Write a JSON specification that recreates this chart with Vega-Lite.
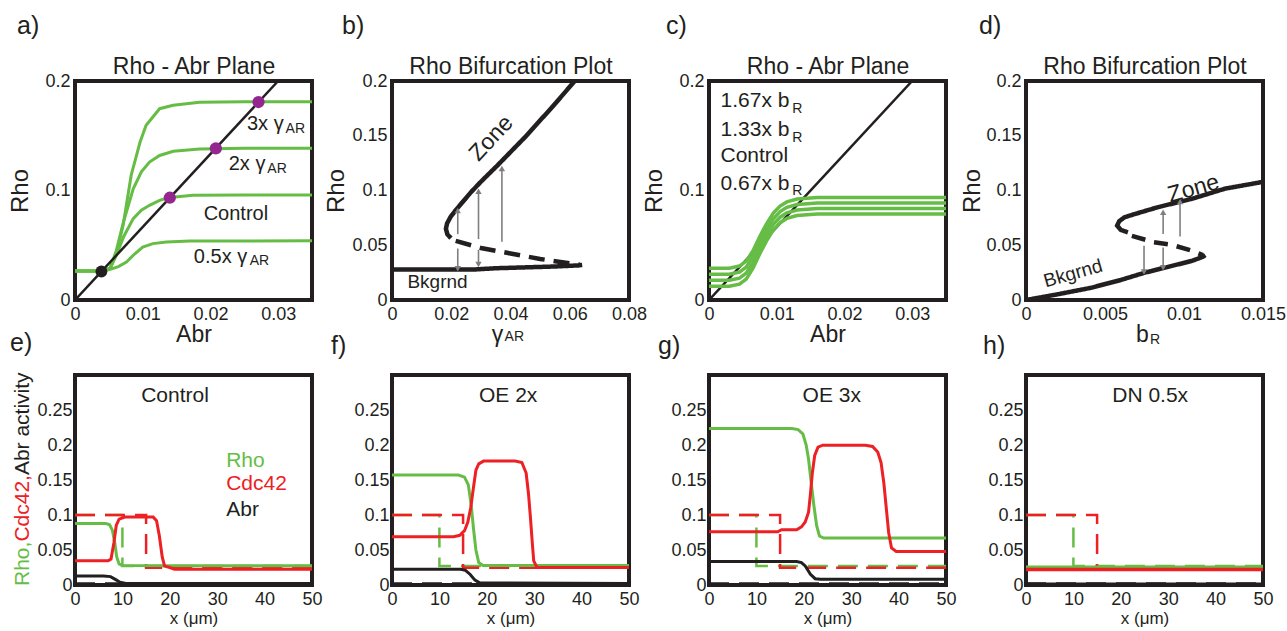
{
  "$schema": "https://vega.github.io/schema/vega-lite/v6.json",
  "padding": {"left": 6, "top": 12, "right": 5, "bottom": 5},
  "config": {
    "font": "Liberation Sans",
    "view": {"stroke": "#231f20", "strokeWidth": 4},
    "axis": {"domain": false, "ticks": false, "grid": false, "labelFontSize": 18, "labelColor": "#231f20", "titleFontSize": 23, "titleFontWeight": "normal", "titleColor": "#231f20", "labelPadding": 5, "titlePadding": 2, "format": ".3~r", "labelFlush": false, "labelOverlap": false, "labelFont": "Liberation Sans", "titleFont": "Liberation Sans"},
    "title": {"anchor": "start", "frame": "group", "fontSize": 25, "fontWeight": "normal", "color": "#231f20", "font": "Liberation Sans", "offset": 16},
    "text": {"font": "Liberation Sans", "color": "#231f20"}
  },
  "resolve": {"scale": {"color": "independent", "shape": "independent", "strokeDash": "independent"}},
  "datasets": {
    "a_green": [
      {"x":0,"y":0.0265,"c":"3x"},{"x":0.0042,"y":0.0265,"c":"3x"},{"x":0.0052,"y":0.029,"c":"3x"},{"x":0.0062,"y":0.045,"c":"3x"},{"x":0.0071,"y":0.068,"c":"3x"},{"x":0.0083,"y":0.114,"c":"3x"},{"x":0.0096,"y":0.144,"c":"3x"},{"x":0.0105,"y":0.1595,"c":"3x"},{"x":0.0125,"y":0.1747,"c":"3x"},{"x":0.0145,"y":0.1778,"c":"3x"},{"x":0.0184,"y":0.1805,"c":"3x"},{"x":0.025,"y":0.181,"c":"3x"},{"x":0.035,"y":0.181,"c":"3x"},
      {"x":0,"y":0.0265,"c":"2x"},{"x":0.0042,"y":0.0265,"c":"2x"},{"x":0.0052,"y":0.029,"c":"2x"},{"x":0.0061,"y":0.045,"c":"2x"},{"x":0.0071,"y":0.07,"c":"2x"},{"x":0.0086,"y":0.1016,"c":"2x"},{"x":0.0098,"y":0.117,"c":"2x"},{"x":0.011,"y":0.126,"c":"2x"},{"x":0.0125,"y":0.132,"c":"2x"},{"x":0.0145,"y":0.1358,"c":"2x"},{"x":0.0184,"y":0.138,"c":"2x"},{"x":0.025,"y":0.1385,"c":"2x"},{"x":0.035,"y":0.1385,"c":"2x"},
      {"x":0,"y":0.0265,"c":"1x"},{"x":0.0042,"y":0.0265,"c":"1x"},{"x":0.0052,"y":0.029,"c":"1x"},{"x":0.0061,"y":0.0408,"c":"1x"},{"x":0.0072,"y":0.058,"c":"1x"},{"x":0.0086,"y":0.0743,"c":"1x"},{"x":0.0098,"y":0.082,"c":"1x"},{"x":0.011,"y":0.0865,"c":"1x"},{"x":0.0125,"y":0.091,"c":"1x"},{"x":0.0137,"y":0.0934,"c":"1x"},{"x":0.0174,"y":0.0956,"c":"1x"},{"x":0.025,"y":0.0958,"c":"1x"},{"x":0.035,"y":0.0958,"c":"1x"},
      {"x":0,"y":0.0265,"c":"0.5x"},{"x":0.0042,"y":0.0265,"c":"0.5x"},{"x":0.0052,"y":0.028,"c":"0.5x"},{"x":0.0064,"y":0.0305,"c":"0.5x"},{"x":0.0076,"y":0.0347,"c":"0.5x"},{"x":0.0088,"y":0.042,"c":"0.5x"},{"x":0.01,"y":0.0484,"c":"0.5x"},{"x":0.0115,"y":0.0515,"c":"0.5x"},{"x":0.0135,"y":0.053,"c":"0.5x"},{"x":0.017,"y":0.0538,"c":"0.5x"},{"x":0.035,"y":0.054,"c":"0.5x"}
    ],
    "diag": [{"x":0,"y":0},{"x":0.03,"y":0.2}],
    "a_pts": [{"x":0.0039,"y":0.026,"k":"bg"},{"x":0.014,"y":0.0934,"k":"st"},{"x":0.0208,"y":0.1385,"k":"st"},{"x":0.0271,"y":0.1808,"k":"st"}],
    "a_txt": [{"x":0.0254,"y":0.155,"t":"3x γ"},{"x":0.0227,"y":0.1184,"t":"2x γ"},{"x":0.019,"y":0.0728,"t":"Control"},{"x":0.01755,"y":0.0341,"t":"0.5x γ"}],
    "a_sub": [{"x":0.0311,"y":0.1525,"t":"AR"},{"x":0.0284,"y":0.116,"t":"AR"},{"x":0.0258,"y":0.0318,"t":"AR"}],
    "b_br": [
      {"x":0.0199,"y":0.0565,"br":"zone"},{"x":0.0187,"y":0.06,"br":"zone"},{"x":0.0182,"y":0.065,"br":"zone"},{"x":0.0186,"y":0.07,"br":"zone"},{"x":0.0198,"y":0.076,"br":"zone"},{"x":0.0215,"y":0.082,"br":"zone"},{"x":0.024,"y":0.09,"br":"zone"},{"x":0.0267,"y":0.0986,"br":"zone"},{"x":0.03,"y":0.108,"br":"zone"},{"x":0.0357,"y":0.1232,"br":"zone"},{"x":0.045,"y":0.149,"br":"zone"},{"x":0.054,"y":0.176,"br":"zone"},{"x":0.0617,"y":0.2,"br":"zone"},{"x":0.064,"y":0.208,"br":"zone"},
      {"x":0,"y":0.0279,"br":"bkgrnd"},{"x":0.028,"y":0.0279,"br":"bkgrnd"},{"x":0.035,"y":0.029,"br":"bkgrnd"},{"x":0.045,"y":0.0298,"br":"bkgrnd"},{"x":0.055,"y":0.0306,"br":"bkgrnd"},{"x":0.063,"y":0.0316,"br":"bkgrnd"},{"x":0.0642,"y":0.032,"br":"bkgrnd"},
      {"x":0.0215,"y":0.054,"br":"unstable"},{"x":0.03,"y":0.0475,"br":"unstable"},{"x":0.04,"y":0.0425,"br":"unstable"},{"x":0.05,"y":0.0375,"br":"unstable"},{"x":0.058,"y":0.0342,"br":"unstable"},{"x":0.0635,"y":0.0322,"br":"unstable"}
    ],
    "b_arr": [{"x":0.0222,"y":0.0602,"y2":0.0817,"d":"up"},{"x":0.0292,"y":0.0556,"y2":0.0993,"d":"up"},{"x":0.0371,"y":0.0532,"y2":0.1201,"d":"up"},{"x":0.0222,"y":0.047,"y2":0.0286,"d":"down"},{"x":0.0292,"y":0.0458,"y2":0.0325,"d":"down"}],
    "c_green": [
      {"x":0,"y":0.029,"c":"1.67"},{"x":0.003,"y":0.029,"c":"1.67"},{"x":0.0045,"y":0.031,"c":"1.67"},{"x":0.0055,"y":0.0355,"c":"1.67"},{"x":0.0065,"y":0.045,"c":"1.67"},{"x":0.0075,"y":0.058,"c":"1.67"},{"x":0.0085,"y":0.0696,"c":"1.67"},{"x":0.0095,"y":0.0793,"c":"1.67"},{"x":0.0105,"y":0.0858,"c":"1.67"},{"x":0.0115,"y":0.0896,"c":"1.67"},{"x":0.013,"y":0.0922,"c":"1.67"},{"x":0.016,"y":0.0935,"c":"1.67"},{"x":0.035,"y":0.0935,"c":"1.67"},
      {"x":0,"y":0.0235,"c":"1.33"},{"x":0.003,"y":0.0235,"c":"1.33"},{"x":0.0045,"y":0.0255,"c":"1.33"},{"x":0.0055,"y":0.03,"c":"1.33"},{"x":0.0065,"y":0.0398,"c":"1.33"},{"x":0.0075,"y":0.0528,"c":"1.33"},{"x":0.0085,"y":0.0645,"c":"1.33"},{"x":0.0095,"y":0.0742,"c":"1.33"},{"x":0.0105,"y":0.0807,"c":"1.33"},{"x":0.0115,"y":0.0846,"c":"1.33"},{"x":0.013,"y":0.0872,"c":"1.33"},{"x":0.016,"y":0.0885,"c":"1.33"},{"x":0.035,"y":0.0885,"c":"1.33"},
      {"x":0,"y":0.018,"c":"1"},{"x":0.003,"y":0.018,"c":"1"},{"x":0.0045,"y":0.02,"c":"1"},{"x":0.0055,"y":0.0246,"c":"1"},{"x":0.0065,"y":0.0344,"c":"1"},{"x":0.0075,"y":0.0475,"c":"1"},{"x":0.0085,"y":0.0593,"c":"1"},{"x":0.0095,"y":0.0691,"c":"1"},{"x":0.0105,"y":0.0756,"c":"1"},{"x":0.0115,"y":0.0796,"c":"1"},{"x":0.013,"y":0.0822,"c":"1"},{"x":0.016,"y":0.0835,"c":"1"},{"x":0.035,"y":0.0835,"c":"1"},
      {"x":0,"y":0.0125,"c":"0.67"},{"x":0.003,"y":0.0125,"c":"0.67"},{"x":0.0045,"y":0.0145,"c":"0.67"},{"x":0.0055,"y":0.0191,"c":"0.67"},{"x":0.0065,"y":0.029,"c":"0.67"},{"x":0.0075,"y":0.0422,"c":"0.67"},{"x":0.0085,"y":0.054,"c":"0.67"},{"x":0.0095,"y":0.064,"c":"0.67"},{"x":0.0105,"y":0.0706,"c":"0.67"},{"x":0.0115,"y":0.0745,"c":"0.67"},{"x":0.013,"y":0.0772,"c":"0.67"},{"x":0.016,"y":0.0785,"c":"0.67"},{"x":0.035,"y":0.0785,"c":"0.67"}
    ],
    "c_txt": [{"x":0.0017,"y":0.1763,"t":"1.67x b"},{"x":0.0017,"y":0.1495,"t":"1.33x b"},{"x":0.0017,"y":0.126,"t":"Control"},{"x":0.0017,"y":0.1007,"t":"0.67x b"}],
    "c_sub": [{"x":0.0123,"y":0.171,"t":"R"},{"x":0.0123,"y":0.1443,"t":"R"},{"x":0.0123,"y":0.0956,"t":"R"}],
    "d_br": [
      {"x":0.00645,"y":0.0618,"br":"zone"},{"x":0.006,"y":0.064,"br":"zone"},{"x":0.00577,"y":0.068,"br":"zone"},{"x":0.0059,"y":0.072,"br":"zone"},{"x":0.00624,"y":0.0756,"br":"zone"},{"x":0.007,"y":0.079,"br":"zone"},{"x":0.00836,"y":0.0848,"br":"zone"},{"x":0.0105,"y":0.0924,"br":"zone"},{"x":0.0126,"y":0.1017,"br":"zone"},{"x":0.01496,"y":0.1078,"br":"zone"},{"x":0.0152,"y":0.1082,"br":"zone"},
      {"x":0,"y":0,"br":"bkgrnd"},{"x":0.002,"y":0.0052,"br":"bkgrnd"},{"x":0.0041,"y":0.0111,"br":"bkgrnd"},{"x":0.006,"y":0.0183,"br":"bkgrnd"},{"x":0.0075,"y":0.0249,"br":"bkgrnd"},{"x":0.009,"y":0.0303,"br":"bkgrnd"},{"x":0.0105,"y":0.0357,"br":"bkgrnd"},{"x":0.0112,"y":0.0395,"br":"bkgrnd"},{"x":0.01135,"y":0.041,"br":"bkgrnd"},
      {"x":0.0067,"y":0.0585,"br":"unstable"},{"x":0.0081,"y":0.0528,"br":"unstable"},{"x":0.0092,"y":0.0505,"br":"unstable"},{"x":0.0104,"y":0.0455,"br":"unstable"},{"x":0.0112,"y":0.041,"br":"unstable"}
    ],
    "d_arr": [{"x":0.00868,"y":0.0602,"y2":0.0802,"d":"up"},{"x":0.00975,"y":0.058,"y2":0.09,"d":"up"},{"x":0.00747,"y":0.0495,"y2":0.0255,"d":"down"},{"x":0.00868,"y":0.0479,"y2":0.0295,"d":"down"}],
    "init": [
      {"x":0,"y":0.1,"s":"Rho"},{"x":10,"y":0.1,"s":"Rho"},{"x":10,"y":0.027,"s":"Rho"},{"x":50,"y":0.027,"s":"Rho"},
      {"x":0,"y":0.1,"s":"Cdc42"},{"x":15,"y":0.1,"s":"Cdc42"},{"x":15,"y":0.0245,"s":"Cdc42"},{"x":50,"y":0.0245,"s":"Cdc42"},
      {"x":0,"y":0.002,"s":"Abr"},{"x":50,"y":0.002,"s":"Abr"}
    ],
    "e_fin": [
      {"x":0,"y":0.088,"s":"Rho"},{"x":6.5,"y":0.088,"s":"Rho"},{"x":7.3,"y":0.086,"s":"Rho"},{"x":7.9,"y":0.078,"s":"Rho"},{"x":8.4,"y":0.06,"s":"Rho"},{"x":8.8,"y":0.04,"s":"Rho"},{"x":9.3,"y":0.03,"s":"Rho"},{"x":10,"y":0.028,"s":"Rho"},{"x":50,"y":0.0275,"s":"Rho"},
      {"x":0,"y":0.0345,"s":"Cdc42"},{"x":7,"y":0.0345,"s":"Cdc42"},{"x":7.6,"y":0.037,"s":"Cdc42"},{"x":8.2,"y":0.06,"s":"Cdc42"},{"x":8.7,"y":0.085,"s":"Cdc42"},{"x":9.3,"y":0.094,"s":"Cdc42"},{"x":10.5,"y":0.097,"s":"Cdc42"},{"x":16.5,"y":0.097,"s":"Cdc42"},{"x":17.2,"y":0.092,"s":"Cdc42"},{"x":17.8,"y":0.07,"s":"Cdc42"},{"x":18.4,"y":0.04,"s":"Cdc42"},{"x":18.9,"y":0.027,"s":"Cdc42"},{"x":20,"y":0.025,"s":"Cdc42"},{"x":21,"y":0.0225,"s":"Cdc42"},{"x":50,"y":0.0225,"s":"Cdc42"},
      {"x":0,"y":0.013,"s":"Abr"},{"x":6,"y":0.013,"s":"Abr"},{"x":7.5,"y":0.012,"s":"Abr"},{"x":8.5,"y":0.008,"s":"Abr"},{"x":9.5,"y":0.004,"s":"Abr"},{"x":11,"y":0.002,"s":"Abr"},{"x":50,"y":0.002,"s":"Abr"}
    ],
    "f_fin": [
      {"x":0,"y":0.157,"s":"Rho"},{"x":14,"y":0.157,"s":"Rho"},{"x":15.3,"y":0.154,"s":"Rho"},{"x":16.1,"y":0.143,"s":"Rho"},{"x":16.7,"y":0.115,"s":"Rho"},{"x":17.2,"y":0.08,"s":"Rho"},{"x":17.7,"y":0.05,"s":"Rho"},{"x":18.3,"y":0.032,"s":"Rho"},{"x":19.2,"y":0.028,"s":"Rho"},{"x":50,"y":0.028,"s":"Rho"},
      {"x":0,"y":0.069,"s":"Cdc42"},{"x":13,"y":0.069,"s":"Cdc42"},{"x":14.3,"y":0.071,"s":"Cdc42"},{"x":15.3,"y":0.0776,"s":"Cdc42"},{"x":16,"y":0.09,"s":"Cdc42"},{"x":16.6,"y":0.11,"s":"Cdc42"},{"x":17.2,"y":0.14,"s":"Cdc42"},{"x":17.7,"y":0.164,"s":"Cdc42"},{"x":18.3,"y":0.173,"s":"Cdc42"},{"x":19.3,"y":0.177,"s":"Cdc42"},{"x":26,"y":0.177,"s":"Cdc42"},{"x":27.4,"y":0.175,"s":"Cdc42"},{"x":28.3,"y":0.16,"s":"Cdc42"},{"x":28.8,"y":0.13,"s":"Cdc42"},{"x":29.2,"y":0.097,"s":"Cdc42"},{"x":29.6,"y":0.06,"s":"Cdc42"},{"x":29.9,"y":0.0345,"s":"Cdc42"},{"x":30.6,"y":0.025,"s":"Cdc42"},{"x":50,"y":0.025,"s":"Cdc42"},
      {"x":0,"y":0.0225,"s":"Abr"},{"x":14.5,"y":0.0225,"s":"Abr"},{"x":15.5,"y":0.021,"s":"Abr"},{"x":16.5,"y":0.015,"s":"Abr"},{"x":17.5,"y":0.007,"s":"Abr"},{"x":18.5,"y":0.003,"s":"Abr"},{"x":50,"y":0.002,"s":"Abr"}
    ],
    "g_fin": [
      {"x":0,"y":0.2237,"s":"Rho"},{"x":17.5,"y":0.2237,"s":"Rho"},{"x":18.8,"y":0.222,"s":"Rho"},{"x":19.8,"y":0.216,"s":"Rho"},{"x":20.5,"y":0.2,"s":"Rho"},{"x":21,"y":0.18,"s":"Rho"},{"x":21.5,"y":0.15,"s":"Rho"},{"x":22.1,"y":0.115,"s":"Rho"},{"x":22.7,"y":0.085,"s":"Rho"},{"x":23.3,"y":0.07,"s":"Rho"},{"x":24.2,"y":0.067,"s":"Rho"},{"x":50,"y":0.067,"s":"Rho"},
      {"x":0,"y":0.076,"s":"Cdc42"},{"x":14.5,"y":0.076,"s":"Cdc42"},{"x":15.3,"y":0.079,"s":"Cdc42"},{"x":18.5,"y":0.079,"s":"Cdc42"},{"x":19.5,"y":0.083,"s":"Cdc42"},{"x":20.3,"y":0.09,"s":"Cdc42"},{"x":21,"y":0.104,"s":"Cdc42"},{"x":21.4,"y":0.13,"s":"Cdc42"},{"x":21.8,"y":0.16,"s":"Cdc42"},{"x":22.3,"y":0.185,"s":"Cdc42"},{"x":23,"y":0.197,"s":"Cdc42"},{"x":24,"y":0.1997,"s":"Cdc42"},{"x":33,"y":0.1997,"s":"Cdc42"},{"x":34.5,"y":0.198,"s":"Cdc42"},{"x":35.6,"y":0.19,"s":"Cdc42"},{"x":36.3,"y":0.175,"s":"Cdc42"},{"x":36.9,"y":0.145,"s":"Cdc42"},{"x":37.4,"y":0.11,"s":"Cdc42"},{"x":37.9,"y":0.075,"s":"Cdc42"},{"x":38.5,"y":0.053,"s":"Cdc42"},{"x":39.5,"y":0.048,"s":"Cdc42"},{"x":50,"y":0.048,"s":"Cdc42"},
      {"x":0,"y":0.0335,"s":"Abr"},{"x":18.5,"y":0.0335,"s":"Abr"},{"x":19.5,"y":0.032,"s":"Abr"},{"x":20.3,"y":0.0273,"s":"Abr"},{"x":21.4,"y":0.0154,"s":"Abr"},{"x":22.4,"y":0.009,"s":"Abr"},{"x":23.5,"y":0.0082,"s":"Abr"},{"x":50,"y":0.0082,"s":"Abr"}
    ],
    "h_fin": [
      {"x":0,"y":0.0255,"s":"Rho"},{"x":50,"y":0.0255,"s":"Rho"},
      {"x":0,"y":0.022,"s":"Cdc42"},{"x":50,"y":0.022,"s":"Cdc42"},
      {"x":0,"y":0.001,"s":"Abr"},{"x":50,"y":0.001,"s":"Abr"}
    ],
    "e_leg": [{"x":31.9,"y":0.1685,"t":"Rho","s":"Rho"},{"x":31.9,"y":0.136,"t":"Cdc42","s":"Cdc42"},{"x":31.9,"y":0.099,"t":"Abr","s":"Abr"}],
    "e_ytitle": [{"x":-11,"y":-0.0014,"t":"Rho,","s":"Rho"},{"x":-11,"y":0.062,"t":"Cdc42,","s":"Cdc42"},{"x":-11,"y":0.157,"t":"Abr activity","s":"Abr"}]
  },
  "concat": [
    {
      "width": 237, "height": 219,
      "title": {"text": "a)", "dx": -58},
      "resolve": {"axis": {"x": "independent"}},
      "layer": [
        {
          "encoding": {
            "x": {"field": "x", "type": "quantitative", "scale": {"domain": [0, 0.035]}, "axis": {"values": [0, 0.01, 0.02, 0.03], "title": "Abr", "titlePadding": 0}},
            "y": {"field": "y", "type": "quantitative", "scale": {"domain": [0, 0.2]}, "axis": {"values": [0, 0.1, 0.2], "title": "Rho", "titleFontSize": 24, "titlePadding": 12}}
          },
          "layer": [
            {"data": {"name": "a_green"}, "mark": {"type": "line", "color": "#66bd45", "strokeWidth": 3, "clip": true}, "encoding": {"detail": {"field": "c"}}},
            {"data": {"name": "diag"}, "mark": {"type": "line", "color": "#231f20", "strokeWidth": 2.5, "clip": true}, "encoding": {}},
            {"data": {"name": "a_pts"}, "transform": [{"filter": "datum.k == 'st'"}], "mark": {"type": "point", "filled": true, "size": 150, "opacity": 1, "color": "#93278f"}, "encoding": {}},
            {"data": {"name": "a_pts"}, "transform": [{"filter": "datum.k == 'bg'"}], "mark": {"type": "point", "filled": true, "size": 140, "opacity": 1, "color": "#231f20"}, "encoding": {}},
            {"data": {"name": "a_txt"}, "mark": {"type": "text", "align": "left", "baseline": "alphabetic", "fontSize": 20}, "encoding": {"text": {"field": "t"}}},
            {"data": {"name": "a_sub"}, "mark": {"type": "text", "align": "left", "baseline": "alphabetic", "fontSize": 14}, "encoding": {"text": {"field": "t"}}}
          ]
        },
        {
          "data": {"values": [{"x": 0, "y": 0}]},
          "mark": {"type": "point", "opacity": 0},
          "encoding": {
            "x": {"field": "x", "type": "quantitative", "scale": {"domain": [0, 0.035]}, "axis": {"orient": "top", "title": "Rho - Abr Plane", "labels": false, "ticks": false, "domain": false, "titlePadding": 3, "titleFontSize": 23}},
            "y": {"field": "y", "type": "quantitative", "scale": {"domain": [0, 0.2]}}
          }
        }
      ]
    },
    {
      "width": 237, "height": 219,
      "title": {"text": "b)", "dx": -50},
      "resolve": {"axis": {"x": "independent"}},
      "layer": [
        {
          "encoding": {
            "x": {"field": "x", "type": "quantitative", "scale": {"domain": [0, 0.08]}, "axis": {"values": [0, 0.02, 0.04, 0.06, 0.08], "title": "γ", "titleX": 105, "titlePadding": 0}},
            "y": {"field": "y", "type": "quantitative", "scale": {"domain": [0, 0.2]}, "axis": {"values": [0, 0.05, 0.1, 0.15, 0.2], "title": "Rho", "titleFontSize": 24, "titlePadding": 3}}
          },
          "layer": [
            {"data": {"name": "b_br"}, "mark": {"type": "line", "color": "#231f20", "strokeWidth": 4.5, "clip": true}, "encoding": {"detail": {"field": "br"}, "order": {"value": null}, "strokeDash": {"field": "br", "type": "nominal", "scale": {"domain": ["zone", "bkgrnd", "unstable"], "range": [[1, 0], [1, 0], [16, 9]]}, "legend": null}}},
            {"data": {"name": "b_arr"}, "mark": {"type": "rule", "color": "#7f7f7f", "strokeWidth": 1.6}, "encoding": {"y2": {"field": "y2"}}},
            {"data": {"name": "b_arr"}, "mark": {"type": "point", "filled": true, "color": "#7f7f7f", "size": 40, "opacity": 1}, "encoding": {"y": {"field": "y2", "type": "quantitative"}, "shape": {"field": "d", "type": "nominal", "scale": {"domain": ["up", "down"], "range": ["triangle-up", "triangle-down"]}, "legend": null}}},
            {"data": {"values": [{"x": 0.0335, "y": 0.1477, "t": "Zone"}]}, "mark": {"type": "text", "fontSize": 23, "angle": 313, "baseline": "middle"}, "encoding": {"text": {"field": "t"}}},
            {"data": {"values": [{"x": 0.0052, "y": 0.0111, "t": "Bkgrnd"}]}, "mark": {"type": "text", "fontSize": 19, "align": "left", "baseline": "alphabetic"}, "encoding": {"text": {"field": "t"}}},
            {"data": {"values": [{"x": 0.038, "y": -0.037, "t": "AR"}]}, "mark": {"type": "text", "fontSize": 14, "align": "left", "baseline": "alphabetic"}, "encoding": {"text": {"field": "t"}}}
          ]
        },
        {
          "data": {"values": [{"x": 0, "y": 0}]},
          "mark": {"type": "point", "opacity": 0},
          "encoding": {
            "x": {"field": "x", "type": "quantitative", "scale": {"domain": [0, 0.08]}, "axis": {"orient": "top", "title": "Rho Bifurcation Plot", "labels": false, "ticks": false, "domain": false, "titlePadding": 3, "titleFontSize": 23}},
            "y": {"field": "y", "type": "quantitative", "scale": {"domain": [0, 0.2]}}
          }
        }
      ]
    },
    {
      "width": 237, "height": 219,
      "title": {"text": "c)", "dx": -43},
      "resolve": {"axis": {"x": "independent"}},
      "layer": [
        {
          "encoding": {
            "x": {"field": "x", "type": "quantitative", "scale": {"domain": [0, 0.035]}, "axis": {"values": [0, 0.01, 0.02, 0.03], "title": "Abr", "titlePadding": 0}},
            "y": {"field": "y", "type": "quantitative", "scale": {"domain": [0, 0.2]}, "axis": {"values": [0, 0.1, 0.2], "title": "Rho", "titleFontSize": 24, "titlePadding": 12}}
          },
          "layer": [
            {"data": {"name": "diag"}, "mark": {"type": "line", "color": "#231f20", "strokeWidth": 2.5, "clip": true}, "encoding": {}},
            {"data": {"name": "c_green"}, "mark": {"type": "line", "color": "#66bd45", "strokeWidth": 3.5, "clip": true}, "encoding": {"detail": {"field": "c"}}},
            {"data": {"name": "c_txt"}, "mark": {"type": "text", "align": "left", "baseline": "alphabetic", "fontSize": 21}, "encoding": {"text": {"field": "t"}}},
            {"data": {"name": "c_sub"}, "mark": {"type": "text", "align": "left", "baseline": "alphabetic", "fontSize": 14}, "encoding": {"text": {"field": "t"}}}
          ]
        },
        {
          "data": {"values": [{"x": 0, "y": 0}]},
          "mark": {"type": "point", "opacity": 0},
          "encoding": {
            "x": {"field": "x", "type": "quantitative", "scale": {"domain": [0, 0.035]}, "axis": {"orient": "top", "title": "Rho - Abr Plane", "labels": false, "ticks": false, "domain": false, "titlePadding": 3, "titleFontSize": 23}},
            "y": {"field": "y", "type": "quantitative", "scale": {"domain": [0, 0.2]}}
          }
        }
      ]
    },
    {
      "width": 237, "height": 219,
      "title": {"text": "d)", "dx": -47},
      "resolve": {"axis": {"x": "independent"}},
      "layer": [
        {
          "encoding": {
            "x": {"field": "x", "type": "quantitative", "scale": {"domain": [0, 0.015]}, "axis": {"values": [0, 0.005, 0.01, 0.015], "title": "b", "titleX": 116, "titlePadding": 0}},
            "y": {"field": "y", "type": "quantitative", "scale": {"domain": [0, 0.2]}, "axis": {"values": [0, 0.05, 0.1, 0.15, 0.2], "title": "Rho", "titleFontSize": 24, "titlePadding": 1}}
          },
          "layer": [
            {"data": {"name": "d_br"}, "mark": {"type": "line", "color": "#231f20", "strokeWidth": 4.5, "clip": true}, "encoding": {"detail": {"field": "br"}, "order": {"value": null}, "strokeDash": {"field": "br", "type": "nominal", "scale": {"domain": ["zone", "bkgrnd", "unstable"], "range": [[1, 0], [1, 0], [14, 9]]}, "legend": null}}},
            {"data": {"name": "d_arr"}, "mark": {"type": "rule", "color": "#7f7f7f", "strokeWidth": 1.6}, "encoding": {"y2": {"field": "y2"}}},
            {"data": {"name": "d_arr"}, "mark": {"type": "point", "filled": true, "color": "#7f7f7f", "size": 40, "opacity": 1}, "encoding": {"y": {"field": "y2", "type": "quantitative"}, "shape": {"field": "d", "type": "nominal", "scale": {"domain": ["up", "down"], "range": ["triangle-up", "triangle-down"]}, "legend": null}}},
            {"data": {"values": [{"x": 0.0106, "y": 0.1017, "t": "Zone"}]}, "mark": {"type": "text", "fontSize": 23, "angle": 344, "baseline": "middle"}, "encoding": {"text": {"field": "t"}}},
            {"data": {"values": [{"x": 0.00298, "y": 0.0242, "t": "Bkgrnd"}]}, "mark": {"type": "text", "fontSize": 19, "angle": 344, "baseline": "middle"}, "encoding": {"text": {"field": "t"}}},
            {"data": {"values": [{"x": 0.00785, "y": -0.0405, "t": "R"}]}, "mark": {"type": "text", "fontSize": 14, "align": "left", "baseline": "alphabetic"}, "encoding": {"text": {"field": "t"}}}
          ]
        },
        {
          "data": {"values": [{"x": 0, "y": 0}]},
          "mark": {"type": "point", "opacity": 0},
          "encoding": {
            "x": {"field": "x", "type": "quantitative", "scale": {"domain": [0, 0.015]}, "axis": {"orient": "top", "title": "Rho Bifurcation Plot", "labels": false, "ticks": false, "domain": false, "titlePadding": 3, "titleFontSize": 23}},
            "y": {"field": "y", "type": "quantitative", "scale": {"domain": [0, 0.2]}}
          }
        }
      ]
    },
    {
      "width": 237, "height": 210,
      "title": {"text": "e)", "dx": -65},
      "encoding": {
        "x": {"field": "x", "type": "quantitative", "scale": {"domain": [0, 50]}, "axis": {"values": [0, 10, 20, 30, 40, 50], "title": "x (μm)", "titleFontSize": 17}},
        "y": {"field": "y", "type": "quantitative", "scale": {"domain": [0, 0.3]}, "axis": {"values": [0, 0.05, 0.1, 0.15, 0.2, 0.25], "title": null, "labelPadding": 3}}
      },
      "layer": [
        {"data": {"name": "init"}, "mark": {"type": "line", "strokeWidth": 2.5, "strokeDash": [20, 10], "clip": true}, "encoding": {"order": {"value": null}, "color": {"field": "s", "type": "nominal", "scale": {"domain": ["Rho", "Cdc42", "Abr"], "range": ["#66bd45", "#ed2024", "#231f20"]}, "legend": null}}},
        {"data": {"name": "e_fin"}, "mark": {"type": "line", "strokeWidth": 3, "clip": true}, "encoding": {"color": {"field": "s", "type": "nominal", "scale": {"domain": ["Rho", "Cdc42", "Abr"], "range": ["#66bd45", "#ed2024", "#231f20"]}, "legend": null}}},
        {"data": {"values": [{"x": 21.1, "y": 0.262, "t": "Control"}]}, "mark": {"type": "text", "fontSize": 21, "baseline": "alphabetic"}, "encoding": {"text": {"field": "t"}}},
        {"data": {"name": "e_leg"}, "mark": {"type": "text", "fontSize": 21, "align": "left", "baseline": "alphabetic"}, "encoding": {"text": {"field": "t"}, "color": {"field": "s", "type": "nominal", "scale": {"domain": ["Rho", "Cdc42", "Abr"], "range": ["#66bd45", "#ed2024", "#231f20"]}, "legend": null}}},
        {"data": {"name": "e_ytitle"}, "mark": {"type": "text", "fontSize": 21, "align": "left", "baseline": "middle", "angle": 270}, "encoding": {"text": {"field": "t"}, "color": {"field": "s", "type": "nominal", "scale": {"domain": ["Rho", "Cdc42", "Abr"], "range": ["#66bd45", "#ed2024", "#231f20"]}, "legend": null}}}
      ]
    },
    {
      "width": 237, "height": 210,
      "title": {"text": "f)", "dx": -61},
      "encoding": {
        "x": {"field": "x", "type": "quantitative", "scale": {"domain": [0, 50]}, "axis": {"values": [0, 10, 20, 30, 40, 50], "title": "x (μm)", "titleFontSize": 17}},
        "y": {"field": "y", "type": "quantitative", "scale": {"domain": [0, 0.3]}, "axis": {"values": [0, 0.05, 0.1, 0.15, 0.2, 0.25], "title": null, "labelPadding": 3}}
      },
      "layer": [
        {"data": {"name": "init"}, "mark": {"type": "line", "strokeWidth": 2.5, "strokeDash": [20, 10], "clip": true}, "encoding": {"order": {"value": null}, "color": {"field": "s", "type": "nominal", "scale": {"domain": ["Rho", "Cdc42", "Abr"], "range": ["#66bd45", "#ed2024", "#231f20"]}, "legend": null}}},
        {"data": {"name": "f_fin"}, "mark": {"type": "line", "strokeWidth": 3, "clip": true}, "encoding": {"color": {"field": "s", "type": "nominal", "scale": {"domain": ["Rho", "Cdc42", "Abr"], "range": ["#66bd45", "#ed2024", "#231f20"]}, "legend": null}}},
        {"data": {"values": [{"x": 24.5, "y": 0.262, "t": "OE 2x"}]}, "mark": {"type": "text", "fontSize": 21, "baseline": "alphabetic"}, "encoding": {"text": {"field": "t"}}}
      ]
    },
    {
      "width": 237, "height": 210,
      "title": {"text": "g)", "dx": -51},
      "encoding": {
        "x": {"field": "x", "type": "quantitative", "scale": {"domain": [0, 50]}, "axis": {"values": [0, 10, 20, 30, 40, 50], "title": "x (μm)", "titleFontSize": 17}},
        "y": {"field": "y", "type": "quantitative", "scale": {"domain": [0, 0.3]}, "axis": {"values": [0, 0.05, 0.1, 0.15, 0.2, 0.25], "title": null, "labelPadding": 3}}
      },
      "layer": [
        {"data": {"name": "init"}, "mark": {"type": "line", "strokeWidth": 2.5, "strokeDash": [20, 10], "clip": true}, "encoding": {"order": {"value": null}, "color": {"field": "s", "type": "nominal", "scale": {"domain": ["Rho", "Cdc42", "Abr"], "range": ["#66bd45", "#ed2024", "#231f20"]}, "legend": null}}},
        {"data": {"name": "g_fin"}, "mark": {"type": "line", "strokeWidth": 3, "clip": true}, "encoding": {"color": {"field": "s", "type": "nominal", "scale": {"domain": ["Rho", "Cdc42", "Abr"], "range": ["#66bd45", "#ed2024", "#231f20"]}, "legend": null}}},
        {"data": {"values": [{"x": 25.9, "y": 0.262, "t": "OE 3x"}]}, "mark": {"type": "text", "fontSize": 21, "baseline": "alphabetic"}, "encoding": {"text": {"field": "t"}}}
      ]
    },
    {
      "width": 237, "height": 210,
      "title": {"text": "h)", "dx": -43},
      "encoding": {
        "x": {"field": "x", "type": "quantitative", "scale": {"domain": [0, 50]}, "axis": {"values": [0, 10, 20, 30, 40, 50], "title": "x (μm)", "titleFontSize": 17}},
        "y": {"field": "y", "type": "quantitative", "scale": {"domain": [0, 0.3]}, "axis": {"values": [0, 0.05, 0.1, 0.15, 0.2, 0.25], "title": null, "labelPadding": 3}}
      },
      "layer": [
        {"data": {"name": "init"}, "mark": {"type": "line", "strokeWidth": 2.5, "strokeDash": [20, 10], "clip": true}, "encoding": {"order": {"value": null}, "color": {"field": "s", "type": "nominal", "scale": {"domain": ["Rho", "Cdc42", "Abr"], "range": ["#66bd45", "#ed2024", "#231f20"]}, "legend": null}}},
        {"data": {"name": "h_fin"}, "mark": {"type": "line", "strokeWidth": 3.5, "clip": true}, "encoding": {"color": {"field": "s", "type": "nominal", "scale": {"domain": ["Rho", "Cdc42", "Abr"], "range": ["#66bd45", "#ed2024", "#231f20"]}, "legend": null}}},
        {"data": {"values": [{"x": 26.2, "y": 0.262, "t": "DN 0.5x"}]}, "mark": {"type": "text", "fontSize": 21, "baseline": "alphabetic"}, "encoding": {"text": {"field": "t"}}}
      ]
    }
  ],
  "columns": 4,
  "spacing": {"row": 75, "column": 80},
  "bounds": "flush"
}
